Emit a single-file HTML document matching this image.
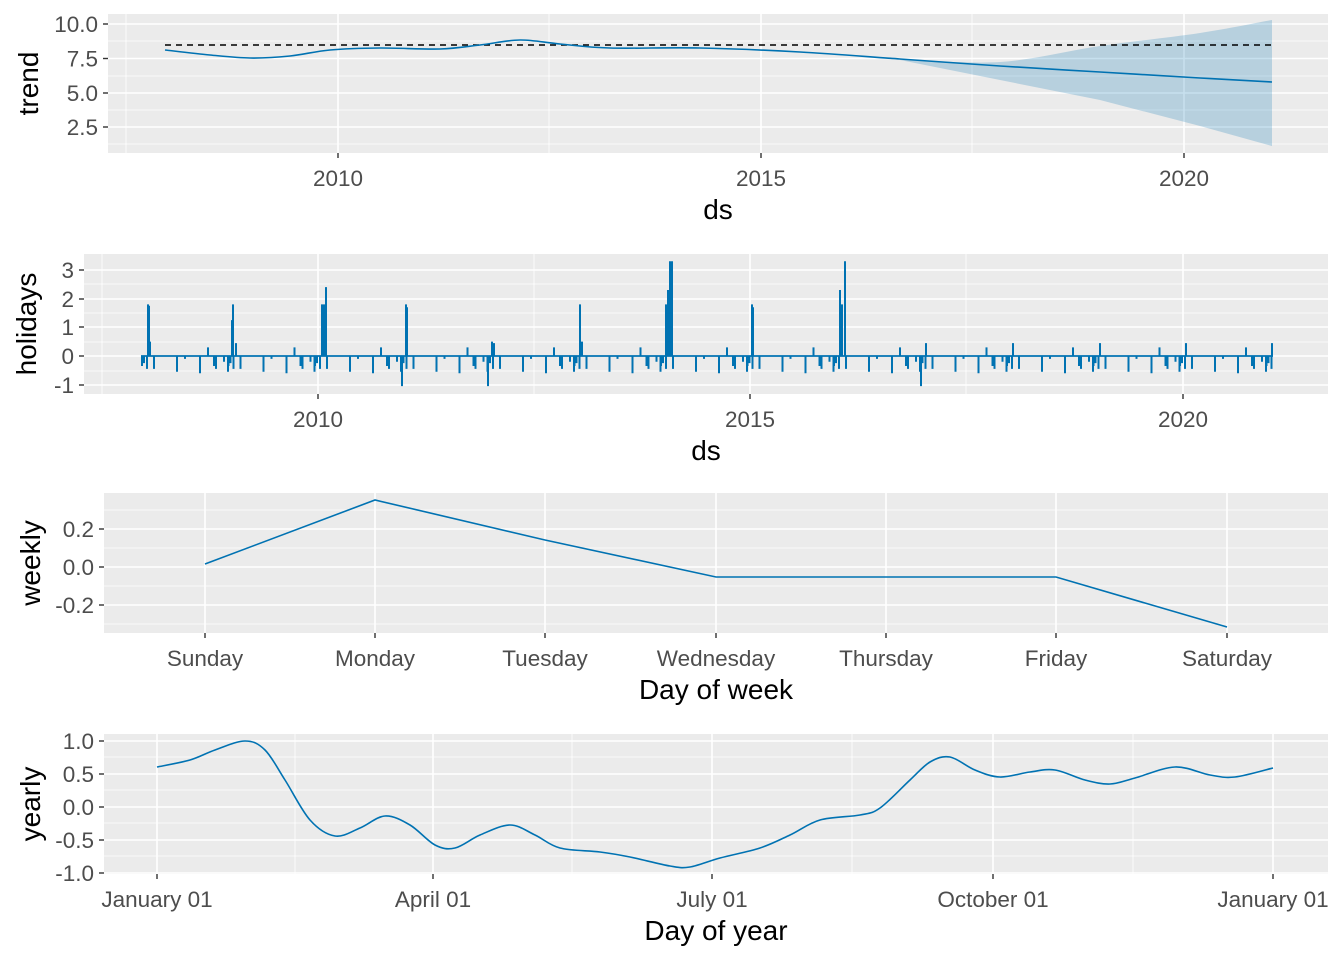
<!DOCTYPE html>
<html><head><meta charset="utf-8"><style>
body{margin:0;background:#fff;}
svg text{font-family:"Liberation Sans",sans-serif;}
</style></head><body>
<svg id="s" width="1344" height="960" xmlns="http://www.w3.org/2000/svg"></svg>
<script>
const s=document.getElementById('s');let h='';
const C='#0072B2';
function panel(x0,x1,y0,y1,yt,xt,ymin,xmin,ytitle,xtitle,ytx){
 h+=`<rect x="${x0}" y="${y0}" width="${x1-x0}" height="${y1-y0}" fill="#EBEBEB"/>`;
 ymin.forEach(y=>h+=`<line x1="${x0}" x2="${x1}" y1="${y}" y2="${y}" stroke="#fff" stroke-width="0.8"/>`);
 xmin.forEach(x=>h+=`<line x1="${x}" x2="${x}" y1="${y0}" y2="${y1}" stroke="#fff" stroke-width="0.8"/>`);
 yt.forEach(([y,l])=>{h+=`<line x1="${x0}" x2="${x1}" y1="${y}" y2="${y}" stroke="#fff" stroke-width="1.6"/><line x1="${x0-5}" x2="${x0}" y1="${y}" y2="${y}" stroke="#333" stroke-width="1.4"/><text x="${x0-10}" y="${y+8}" text-anchor="end" font-size="22.5" fill="#4D4D4D">${l}</text>`});
 xt.forEach(([x,l])=>{h+=`<line x1="${x}" x2="${x}" y1="${y0}" y2="${y1}" stroke="#fff" stroke-width="1.6"/><line x1="${x}" x2="${x}" y1="${y1}" y2="${y1+5}" stroke="#333" stroke-width="1.4"/><text x="${x}" y="${y1+33}" text-anchor="middle" font-size="22.5" fill="#4D4D4D">${l}</text>`});
 h+=`<text x="${(x0+x1)/2}" y="${y1+66}" text-anchor="middle" font-size="28" fill="#000">${xtitle}</text>`;
 h+=`<text transform="translate(${ytx},${(y0+y1)/2}) rotate(-90)" text-anchor="middle" font-size="28" fill="#000">${ytitle}</text>`;
}
function smooth(pts){let d=`M${pts[0][0]},${pts[0][1]}`;for(let i=0;i<pts.length-1;i++){const p0=pts[i-1]||pts[i],p1=pts[i],p2=pts[i+1],p3=pts[i+2]||p2;d+=`C${p1[0]+(p2[0]-p0[0])/6},${p1[1]+(p2[1]-p0[1])/6} ${p2[0]-(p3[0]-p1[0])/6},${p2[1]-(p3[1]-p1[1])/6} ${p2[0]},${p2[1]}`;}return d;}
// Panel 1
panel(108,1328,14,153,[[24,'10.0'],[58.5,'7.5'],[93,'5.0'],[127,'2.5']],[[338,'2010'],[761,'2015'],[1184,'2020']],[41,76,110,144],[126,549,972],'trend','ds',38);
h+=`<path d="${smooth([[900,59],[1000,62],[1100,46],[1200,33],[1272,20]])} L1272,146 L1200,126 L1100,100 L1000,80 L900,60 Z" fill="#0072B2" fill-opacity="0.22"/>`;
h+=`<line x1="165" x2="1272" y1="45" y2="45" stroke="#000" stroke-width="1.5" stroke-dasharray="6,5"/>`;
h+=`<path fill="none" stroke="${C}" stroke-width="1.6" d="${smooth([[165,50],[210,55],[250,58],[290,56],[330,50],[380,48],[440,49],[480,45],[520,40],[560,44],[610,48],[700,48],[800,52],[900,59],[1000,66],[1100,72],[1200,78],[1272,82]])}"/>`;
// Panel 2
panel(84,1328,254,394,[[270,'3'],[299,'2'],[327,'1'],[356,'0'],[385,'-1']],[[318,'2010'],[750,'2015'],[1183,'2020']],[284,313,342,371],[102,534,966],'holidays','ds',36);
const z=356,u=28.7;let ls='';
function sp(x,v){ls+=`M${x},${z}V${z-v*u}`;}
const big={2008:[[148,1.8],[149,1.75],[150,0.5]],2009:[[232,1.25],[233,1.8],[236,0.45]],2010:[[322,1.8],[324,1.8],[326,2.4]],2011:[[406,1.8],[407,1.7]],2013:[[580,1.8],[582,0.5]],2014:[[666,1.8],[668,2.3],[670,3.3],[672,3.3]],2015:[[752,1.8],[753,1.7]],2016:[[840,2.3],[842,1.8],[845,3.3]],2012:[[492,0.5],[494,0.45]]};
for(let yr=2008;yr<=2021;yr++){
 const b=145+(yr-2008)*86.5;
 const offs=[[-3,-0.35],[-1,-0.25],[2,-0.45],[9,-0.45],[32,-0.55],[40,-0.1],[55,-0.6],[63,0.3],[69,-0.35],[71,-0.45],[79,-0.2],[83,-0.55]];
 offs.forEach(([o,v])=>{const x=b+o;if(x>=141&&x<=1273)sp(x,v);});
 (big[yr]||[]).forEach(([x,v])=>sp(x,v));
}
sp(488,-1.05);sp(402,-1.05);sp(921,-1.05);sp(1272,0.45);sp(1186,0.45);sp(1100,0.45);sp(1013,0.45);sp(926,0.45);
h+=`<path d="${ls}" stroke="${C}" stroke-width="2" fill="none"/>`;
h+=`<line x1="141" x2="1273" y1="${z}" y2="${z}" stroke="${C}" stroke-width="1.8"/>`;
// Panel 3
const days=[205,375,545,716,886,1056,1227],dn=['Sunday','Monday','Tuesday','Wednesday','Thursday','Friday','Saturday'];
panel(104,1328,493,633,[[529,'0.2'],[567,'0.0'],[605,'-0.2']],days.map((d,i)=>[d,dn[i]]),[510,548,586,624],[],'weekly','Day of week',40);
h+=`<polyline fill="none" stroke="${C}" stroke-width="1.6" points="205,564 375,500 545,540 716,577 1056,577 1227,627"/>`;
// Panel 4
panel(104,1328,734,874,[[741,'1.0'],[774,'0.5'],[807,'0.0'],[840,'-0.5'],[873,'-1.0']],[[157,'January 01'],[433,'April 01'],[712,'July 01'],[993,'October 01'],[1273,'January 01']],[757,790,823,856],[295,572,852,1133],'yearly','Day of year',40);
h+=`<path fill="none" stroke="${C}" stroke-width="1.6" d="${smooth([[157,767],[190,760],[215,750],[245,741],[265,750],[285,780],[310,820],[335,836],[360,828],[385,816],[410,825],[435,845],[455,848],[480,835],[510,825],[535,835],[560,848],[600,852],[630,857],[670,866],[690,867],[720,858],[760,848],[790,835],[820,820],[860,815],[880,808],[910,780],[930,762],[950,757],[975,770],[1000,777],[1030,772],[1055,770],[1085,780],[1110,784],[1135,778],[1175,767],[1210,775],[1235,777],[1273,768]])}"/>`;
s.innerHTML=h;
</script>
</body></html>
